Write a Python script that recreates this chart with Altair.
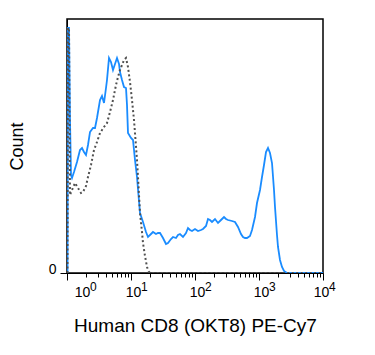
import math
import altair as alt
import pandas as pd

# ---- data (x in log10 units, y in counts) ----
blue_x_px = [67.5, 68, 69, 70, 71, 72, 74, 77, 80, 82, 84, 86, 88, 90, 93, 95, 97, 100, 102, 104, 106, 107,
             109, 111, 113, 115, 117, 119, 120, 122, 124, 126, 127, 128, 131, 133, 135, 137, 140, 143, 146,
             148, 151, 153, 156, 158, 160, 163, 166, 168, 171, 173, 176, 178, 180, 183, 186, 188, 190, 192,
             195, 198, 201, 203, 206, 208, 210, 212, 215, 218, 221, 224, 226, 228, 232, 235, 238, 241, 243,
             245, 247, 250, 252, 255, 257, 260, 262, 264, 266, 268, 270, 272, 274, 275, 277, 278, 280, 282,
             284, 287, 323]
blue_y_px = [273, 28, 28, 120, 175, 178, 172, 162, 150, 148, 152, 155, 145, 132, 128, 128, 118, 100, 96, 103,
             88, 80, 58, 62, 70, 64, 58, 64, 72, 80, 87, 88, 105, 133, 138, 140, 160, 177, 213, 222, 232,
             237, 234, 232, 234, 233, 233, 238, 244, 243, 239, 237, 238, 235, 234, 237, 233, 228, 230, 231,
             229, 231, 230, 229, 226, 219, 220, 222, 219, 223, 220, 217, 219, 220, 221, 222, 227, 234, 237,
             238, 238, 236, 230, 217, 203, 190, 177, 165, 152, 148, 153, 163, 190, 207, 235, 247, 260, 267,
             271, 273, 273]

iso_x_px = [67.5, 68, 69, 70, 72, 75, 78, 81, 83, 86, 88, 91, 94, 97, 100, 104, 107, 110, 113, 116, 118,
            120, 122, 124, 126, 128, 130, 132, 134, 135, 137, 138, 140, 142, 143, 145, 147, 149, 151, 323]
iso_y_px = [273, 28, 28, 195, 190, 183, 188, 193, 192, 186, 177, 165, 150, 142, 133, 127, 123, 112, 100, 85,
            77, 70, 65, 60, 58, 67, 82, 100, 120, 133, 160, 177, 213, 232, 243, 256, 267, 272, 273, 273]

x_decades = [0, 1, 2, 3, 4]
exponents = ["0", "1", "2", "3", "4"]

# convert picture readings to log10 value / count
def to_log(px):
    return (px - 67) / 64.0

def to_count(py):
    return 273 - py

blue = pd.DataFrame({"x": [to_log(v) for v in blue_x_px],
                     "y": [to_count(v) for v in blue_y_px],
                     "i": range(len(blue_x_px))})
iso = pd.DataFrame({"x": [to_log(v) for v in iso_x_px],
                    "y": [to_count(v) for v in iso_y_px],
                    "i": range(len(iso_x_px))})
dec = pd.DataFrame({"x": x_decades, "e": exponents})

tick_vals = list(x_decades)
for d in x_decades[:-1]:
    for k in range(2, 10):
        tick_vals.append(round(d + math.log10(k), 6))
tick_vals.sort()

is_major = "abs(datum.value - round(datum.value)) < 0.001"

FONT = "Liberation Sans"

xscale = alt.Scale(domain=[0, 4], nice=False, zero=False)
x_axis = alt.Axis(values=tick_vals, title="Human CD8 (OKT8) PE-Cy7",
                  labelExpr=f"{is_major} ? '10' : ''",
                  tickSize={"condition": {"test": is_major, "value": 7}, "value": 4},
                  labelOffset={"condition": [{"test": "datum.value < 0.5", "value": 15},
                                             {"test": "datum.value > 3.5", "value": -2}],
                               "value": 2},
                  labelFlush=False, labelOverlap=False, labelBound=False,
                  grid=False, domainColor="black", tickColor="black",
                  labelFont=FONT, labelFontSize=14, labelColor="black", labelPadding=5,
                  titleFont=FONT, titleFontSize=19, titleFontWeight="normal",
                  titleColor="black", titlePadding=17)
x_enc = alt.X("x:Q", scale=xscale, axis=x_axis)
y_enc = alt.Y("y:Q", scale=alt.Scale(domain=[0, 254], nice=False),
              axis=alt.Axis(values=[0], title="Count", grid=False, tickSize=7,
                            domainColor="black", tickColor="black",
                            labelFont=FONT, labelFontSize=14, labelColor="black",
                            labelPadding=4, labelBaseline="alphabetic",
                            titleFont=FONT, titleFontSize=18, titleFontWeight="normal",
                            titleColor="black", titlePadding=22))

blue_line = alt.Chart(blue).mark_line(color="#1a8cff", strokeWidth=1.8, clip=True).encode(
    x=x_enc, y=y_enc, order="i:Q")
iso_line = alt.Chart(iso).mark_line(color="#505050", strokeWidth=2, strokeDash=[2, 2.5], clip=True).encode(
    x=x_enc, y=y_enc, order="i:Q")

sup_base = alt.Chart(dec)
sup0 = sup_base.transform_filter("datum.x < 0.5").mark_text(
    align="left", baseline="alphabetic", dx=23, font=FONT, fontSize=12, color="black").encode(
    x=x_enc, y=alt.value(272), text="e:N")
sup_mid = sup_base.transform_filter("datum.x > 0.5 && datum.x < 3.5").mark_text(
    align="left", baseline="alphabetic", dx=10, font=FONT, fontSize=12, color="black").encode(
    x=x_enc, y=alt.value(272), text="e:N")
sup4 = sup_base.transform_filter("datum.x > 3.5").mark_text(
    align="left", baseline="alphabetic", dx=6, font=FONT, fontSize=12, color="black").encode(
    x=x_enc, y=alt.value(272), text="e:N")

chart = alt.layer(blue_line, iso_line, sup0, sup_mid, sup4).properties(
    width=256, height=254,
    autosize=alt.AutoSizeParams(type="none"),
    padding={"left": 59, "top": 11, "right": 44, "bottom": 74},
    background="white",
).configure_view(stroke="black", strokeWidth=1.5)

chart.save("out.html", embed_options={"renderer": "svg", "actions": False})
